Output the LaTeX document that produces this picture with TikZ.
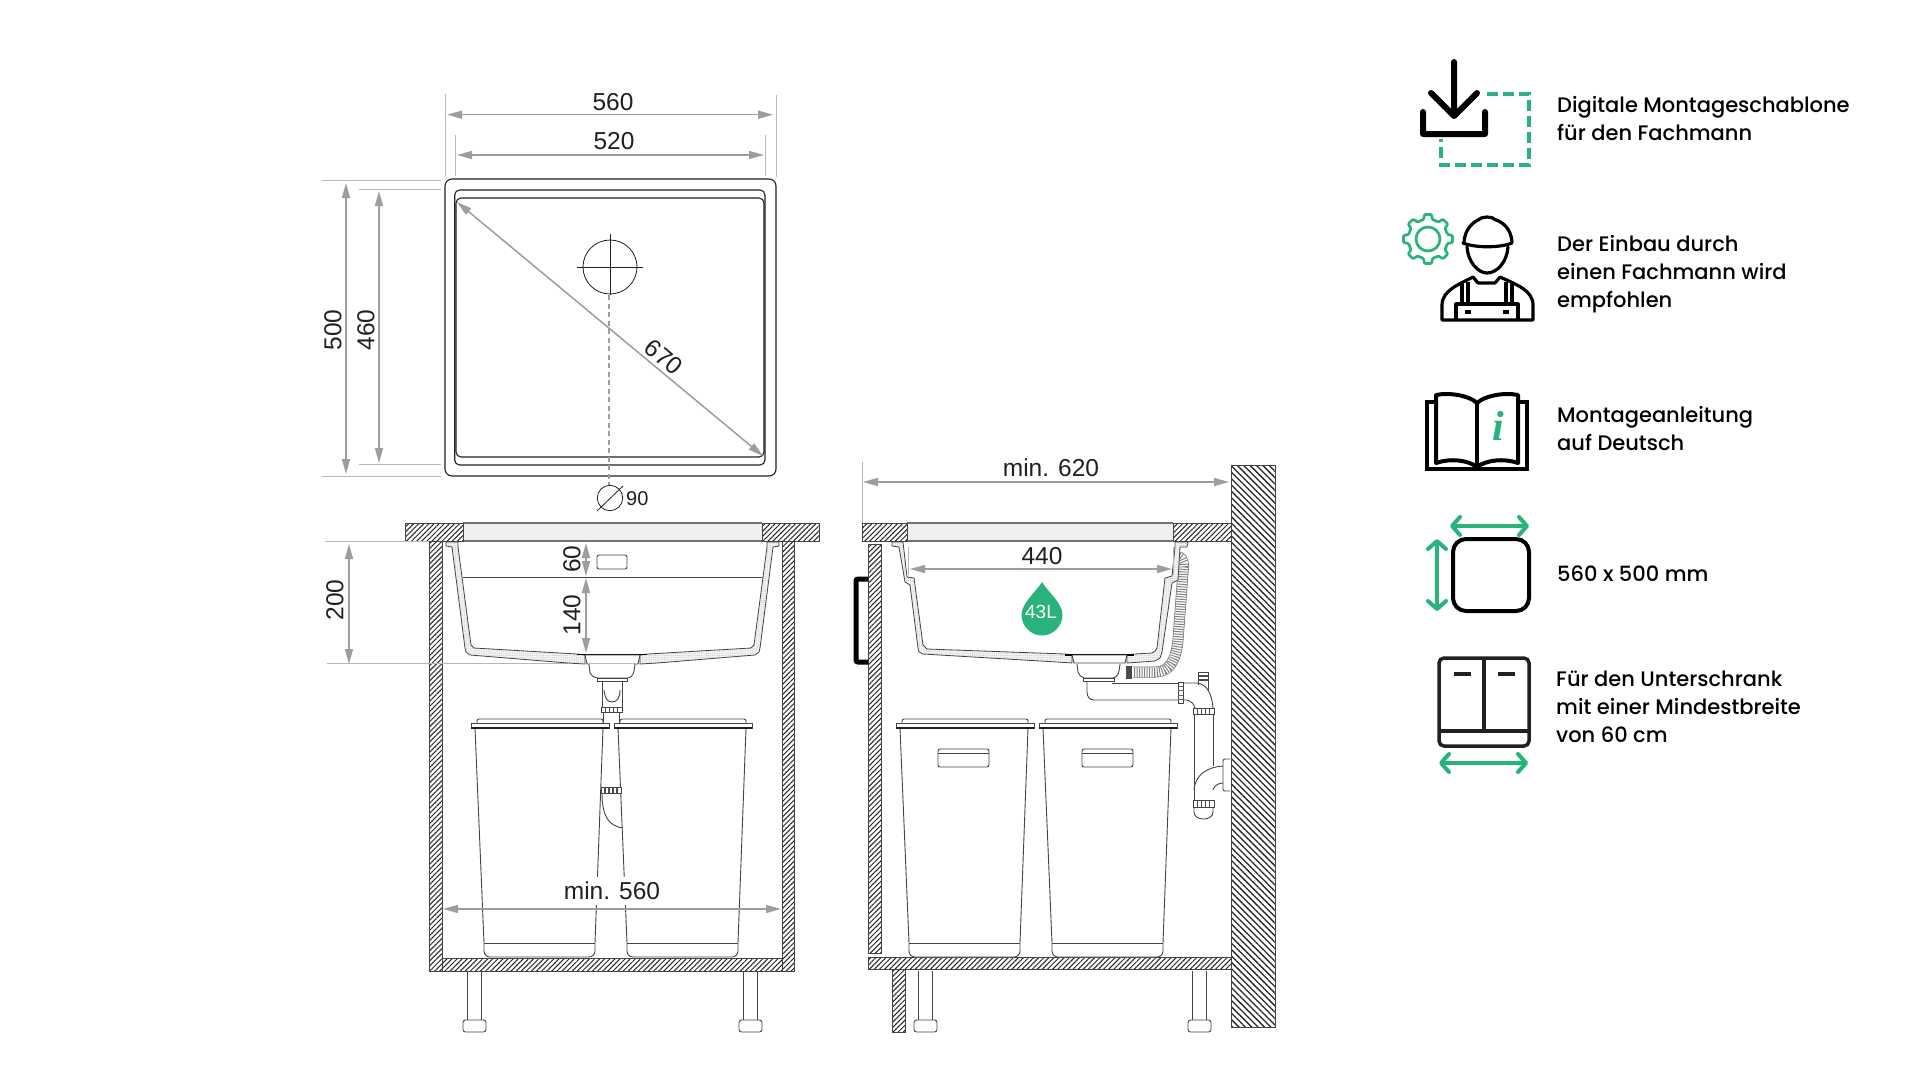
\documentclass[tikz,border=0pt]{standalone}
\usepackage{fontspec}
\setmainfont{Liberation Sans}
\newfontfamily\lab{Poppins Medium}
\usetikzlibrary{arrows.meta,patterns.meta}
\definecolor{dimc}{HTML}{999EA3}
\definecolor{extc}{HTML}{B4B8BB}
\definecolor{ink}{HTML}{231F20}
\definecolor{linec}{HTML}{444444}
\definecolor{grn}{HTML}{2AB27B}
\tikzset{
  dimline/.style={draw=dimc,line width=1.5pt,{Triangle[length=15pt,width=8pt]}-{Triangle[length=15pt,width=8pt]}},
  extline/.style={draw=extc,line width=1pt},
  dimtext/.style={text=ink,font=\fontsize{24.5}{24}\selectfont,inner sep=0pt},
  icontext/.style={anchor=west,align=left,text=black,inner sep=0pt,font=\lab\fontsize{21}{28}\selectfont},
  hatchR/.style={draw=linec,line width=1pt,pattern={Lines[angle=45,distance=3.6pt,line width=1pt]},pattern color=black!85},
  hatchL/.style={draw=linec,line width=1pt,pattern={Lines[angle=-45,distance=4.5pt,line width=1.3pt]},pattern color=black!85},
  thin line/.style={draw=linec,line width=0.9pt},
  stone/.style={draw=linec,line width=0.8pt,line join=round,preaction={fill=black!5},pattern={Dots[distance=2.2pt,radius=0.35pt]},pattern color=black!35},
  iconblack/.style={draw=black,line width=3.2pt,line cap=round,line join=round},
  icongreen/.style={draw=grn,line width=4pt,{Straight Barb[length=8pt,width=18pt,round]}-{Straight Barb[length=8pt,width=18pt,round]}},
  binpic/.pic={
    \draw[thin line,fill=white] (6,0) [rounded corners=2pt] -- (6,-4) -- (132,-4) -- (132,0);
    \draw[thin line,fill=white,rounded corners=0pt] (4,5) -- (13,220) [rounded corners=6pt] -- (13,234) -- (124,234) [rounded corners=0pt] -- (124,220) -- (132,5) -- cycle;
    \draw[draw=linec,line width=1pt,fill=white] (0,0) rectangle (138,5);
    \draw[draw=ink,line width=1.2pt] (0,5) -- (138,5);
    \draw[thin line] (13,220) -- (124,220);
  },
  binhandle/.pic={
    \draw[thin line,rounded corners=2pt] (0,0) rectangle (51,18);
    \draw[thin line] (0,4) -- (51,4);
  },
  legpic/.pic={
    \draw[thin line] (4,-49) -- (4,0) (18,-49) -- (18,0);
    \draw[thin line,rounded corners=2.5pt,fill=white] (0,0) rectangle (23,12);
  }
}
\newcommand{\collar}[4]{\draw[thin line,fill=white] (#1,#2) rectangle (#3,#4);
  \foreach \k in {0.2,0.4,0.6,0.8}{\draw[draw=black!70,line width=1.2pt] ({#1+\k*(#3-#1)},#2) -- ({#1+\k*(#3-#1)},#4);}}
\begin{document}
\begin{tikzpicture}[x=1pt,y=-1pt]
\useasboundingbox (0,0) rectangle (1920,1080);
\fill[white] (0,0) rectangle (1920,1080);

%% ---------- top view
\draw[draw=ink,line width=1.1pt,rounded corners=7pt] (445,179) rectangle (776,476);
\draw[draw=ink,line width=1.1pt,rounded corners=5pt] (454.7,190) rectangle (765,465);
\draw[draw=ink,line width=1.1pt,rounded corners=5pt] (456,198) rectangle (764,457);
\draw[draw=ink,line width=0.8pt] (610,267) circle (27);
\draw[draw=ink,line width=0.8pt] (577,267) -- (643,267) (610,234) -- (610,295);
\draw[draw=dimc,line width=1.2pt,dash pattern=on 5pt off 3.5pt] (609,295) -- (609,485);
\draw[draw=ink,line width=0.8pt] (610,498) circle (12.7);
\draw[draw=ink,line width=0.8pt] (597,511) -- (623,486);
\node[dimtext,font=\fontsize{20}{20}\selectfont,anchor=west] (t90) at (626,499) {90};
\draw[extline] (445,94) -- (445,176) (776,95) -- (776,177) (455,135) -- (455,176) (765,135) -- (765,176);
\draw[extline] (322,180) -- (441,180) (322,476) -- (441,476) (359,189) -- (441,189) (359,464) -- (441,464);
\draw[dimline] (447,114.7) -- (773,114.7);
\draw[dimline] (457,155) -- (764,155);
\draw[dimline] (346,183) -- (346,474);
\draw[dimline] (379,191) -- (379,463);
\draw[dimline] (457,202) -- (763,456);
\node[dimtext] (t560) at (613,102) {560};
\node[dimtext] (t520) at (614,141) {520};
\node[dimtext,rotate=90] (t500) at (333,330) {500};
\node[dimtext,rotate=90] (t460) at (366,330) {460};
\node[dimtext,rotate=-40] (t670) at (664,357) {670};

%% ---------- front view
\fill[black!6] (463,523) rectangle (762,541);
\draw[draw=black!55,line width=1.1pt] (463,523) -- (762,523) (463,541) -- (762,541);
\path[hatchR] (405,523) rectangle (463,541);
\path[hatchR] (762,523) rectangle (819,541);
\path[hatchR] (429,541) rectangle (442,971);
\path[hatchR] (782,541) rectangle (794,971);
\path[hatchR] (442,958) rectangle (782,971);
\draw[extline] (325,541) -- (429,541) (327,663) -- (568,663);
\draw[dimline] (349,544) -- (349,664);
\node[dimtext,rotate=90] (t200) at (335,600) {200};
\pic at (463,1020) {legpic};
\pic at (739,1020) {legpic};
% sink
\draw[thin line] (463,577) -- (762,577);
\draw[thin line,rounded corners=2pt] (597,555) rectangle (627,569);
\newcommand{\frontwall}{\draw[stone] (446,542) -- (446,546) -- (452,547) -- (465,648) -- (466,652) -- (470,655) -- (568,663) -- (585,664) -- (585,655) -- (577,654) -- (474,648) -- (471,645) -- (458,547) -- (458,542) -- cycle;}
\frontwall
\begin{scope}[shift={(1225,0)},xscale=-1]\frontwall\end{scope}
\draw[draw=black,line width=1.8pt] (577,654.5) -- (647,654.5);
\draw[thin line,fill=white] (585,655) -- (640,655) -- (638,664) -- (587,664) -- cycle;
\draw[thin line,fill=white] (589,664) -- (590,673) .. controls (591,676) and (594,677) .. (597,678) -- (628,678) .. controls (632,677) and (634,675) .. (635,664);
\draw[thin line,fill=white] (597,678) rectangle (627,681);
% pipe
\draw[thin line] (602,681) -- (602,707) (622,681) -- (622,707) (603,712) -- (603,728) (619,712) -- (619,728);
\draw[thin line] (604,690) .. controls (605,698) and (607,702) .. (612,702) .. controls (617,702) and (620,698) .. (620,690);
\collar{601}{707}{622}{712}
% bins
\pic at (471,723) {binpic};
\pic at (614,723) {binpic};
\collar{601}{787}{621}{793}
\draw[thin line] (602,793) .. controls (602,815) and (608,826) .. (623,828);
\node[dimtext,fill=white,inner xsep=1pt,inner ysep=5pt] (tmin560) at (612,891) {min. 560};
\draw[dimline] (443,909) -- (781,909);
\draw[dimline] (586,543) -- (586,576);
\draw[dimline] (586,578) -- (586,653);
\node[dimtext,rotate=90] (t60) at (572,559) {60};
\node[dimtext,rotate=90] (t140) at (572,615) {140};

%% ---------- side view
\path[hatchL] (1231,465) rectangle (1275,1027);
\fill[black!6] (907,523) rectangle (1173,541);
\draw[draw=black!55,line width=1.1pt] (907,523) -- (1173,523) (907,541) -- (1173,541);
\path[hatchR] (862,523) rectangle (907,541);
\path[hatchR] (1173,523) rectangle (1231,541);
\path[hatchR] (868,544) rectangle (881,953);
\path[hatchR] (868,957) rectangle (1231,969);
\path[hatchR] (892,969) rectangle (905,1032);
\pic at (914,1020) {legpic};
\pic at (1188,1020) {legpic};
\draw[draw=black,line width=5pt,rounded corners=2pt] (868,579) -- (856,579) -- (856,662) -- (868,662);
% overflow hose
\path[draw=black!55,line width=11pt,line join=round] (1178,556) .. controls (1184,558) and (1184,566) .. (1183,572) -- (1178,640) .. controls (1176,660) and (1170,672) .. (1155,672) -- (1133,672);
\path[draw=white,line width=9.5pt,line join=round] (1178,556) .. controls (1184,558) and (1184,566) .. (1183,572) -- (1178,640) .. controls (1176,660) and (1170,672) .. (1155,672) -- (1133,672);
\path[draw=black!50,line width=9.5pt,dash pattern=on 1pt off 1.5pt] (1178,556) .. controls (1184,558) and (1184,566) .. (1183,572) -- (1178,640) .. controls (1176,660) and (1170,672) .. (1155,672) -- (1133,672);
\collar{1126}{666}{1131}{678}
% sink walls
\draw[stone] (892,542) -- (892,546) -- (899,547) -- (905,582) -- (910,585) -- (918,648) -- (919,652) -- (923,654) -- (1057,662) -- (1072,663) -- (1072,655) -- (1065,654) -- (927,649) -- (923,645) -- (914,578) -- (907,577) -- (903,542) -- cycle;
\draw[stone] (1188,542) -- (1187,547) -- (1180,547) -- (1178,580) -- (1172,583) -- (1162,652) -- (1160,658) -- (1155,661) -- (1127,663) -- (1127,655) -- (1134,654) -- (1152,653) -- (1155,651) -- (1157,648) -- (1165,578) -- (1172,576) -- (1175,547) -- (1175,542) -- cycle;
\draw[draw=black,line width=1.8pt] (1065,655) -- (1134,655);
\draw[thin line,fill=white] (1072,655) -- (1127,655) -- (1125,663) -- (1074,663) -- cycle;
\draw[thin line,fill=white] (1077,664) -- (1078,672) .. controls (1079,675) and (1081,677) .. (1084,678) -- (1113,678) .. controls (1117,677) and (1119,675) .. (1120,664);
\draw[thin line,fill=white] (1083,678) rectangle (1114,681);
% trap
\draw[thin line] (1087,681) -- (1087,692) .. controls (1087,697) and (1090,700) .. (1094,700) -- (1178,700);
\draw[thin line] (1112,683) -- (1178,683);
\draw[thin line] (1198,685) -- (1198,672) -- (1208,672) -- (1208,690);
\draw[draw=black!70,line width=1.2pt] (1198,676) -- (1208,676) (1198,680) -- (1208,680);
\draw[thin line] (1183,683) -- (1197,683) .. controls (1207,684) and (1212,694) .. (1213,708);
\draw[thin line] (1183,700) -- (1187,700) .. controls (1191,701) and (1194,704) .. (1195,708);
\draw[thin line,fill=white] (1178,682) rectangle (1183,703);
\draw[draw=black!60,line width=1pt] (1178,686) -- (1183,686) (1178,690) -- (1183,690) (1178,695) -- (1183,695) (1178,699) -- (1183,699);
\collar{1193}{708}{1214}{714}
\draw[thin line] (1194,714) -- (1194,800) (1213,714) -- (1213,766);
\draw[thin line] (1194,790) .. controls (1195,775) and (1207,767) .. (1223,766);
\draw[thin line] (1213,790) .. controls (1214,786) and (1218,783) .. (1223,783);
\draw[thin line,rounded corners=2pt] (1230,759) -- (1223,759) -- (1223,791) -- (1230,791);
\collar{1193}{800}{1214}{807}
\draw[thin line] (1194,807) -- (1194,812) .. controls (1194,817) and (1199,819) .. (1203.5,819) .. controls (1208,819) and (1213,817) .. (1213,812) -- (1213,807);
% bins
\pic at (896,723) {binpic};
\pic at (1039,723) {binpic};
\pic at (938,749) {binhandle};
\pic at (1082,749) {binhandle};
% dims
\draw[extline] (862,462) -- (862,523);
\draw[dimline] (863,482) -- (1229,482);
\node[dimtext] (tmin620) at (1051,468) {min. 620};
\draw[extline] (908,547) -- (908,575) (1173,547) -- (1173,575);
\draw[dimline] (910,569) -- (1172,569);
\node[dimtext] (t440) at (1042,556) {440};
\fill[grn] (1042,582) .. controls (1036,592) and (1021.5,603) .. (1021.5,615) .. controls (1021.5,626) and (1031,635.5) .. (1042,635.5) .. controls (1053,635.5) and (1062.5,626) .. (1062.5,615) .. controls (1062.5,603) and (1048,592) .. (1042,582) -- cycle;
\node[text=white,font=\fontsize{19}{19}\selectfont,inner sep=0pt] (t43) at (1041,612) {43L};

%% ---------- icons
% download
\draw[draw=black,line width=6pt,line cap=round,line join=round] (1454,62) -- (1454,116) (1431,93) -- (1454,116) -- (1477,93) (1423,112) -- (1423,134) -- (1485,134) -- (1485,112);
\draw[draw=grn,line width=4.5pt,dash pattern=on 11pt off 5pt] (1487,94) -- (1529,94) -- (1529,165) -- (1441,165) -- (1441,139);
\node[icontext] (l1) at (1557,119) {Digitale Montageschablone\\für den Fachmann};
% worker
\begin{scope}[shift={(1428,239)}]
\draw[draw=grn,line width=2.7pt,line join=round,rounded corners=1pt]
 (-13:20) \foreach \a in {0,45,...,315}{ -- ({\a-13}:20) -- ({\a-8}:24.8) -- ({\a+8}:24.8) -- ({\a+13}:20)} -- cycle;
\draw[draw=grn,line width=2.7pt] (0,0) circle (12);
\end{scope}
\draw[iconblack] (1464,242) .. controls (1465,228) and (1474,222) .. (1478,220) .. controls (1482,216) and (1492,216) .. (1496,220) .. controls (1502,222) and (1511,228) .. (1512,242);
\draw[iconblack] (1463,243) .. controls (1475,248) and (1500,248) .. (1512,243);
\draw[iconblack] (1467,247) .. controls (1468,262) and (1478,273) .. (1487,273) .. controls (1497,273) and (1507,262) .. (1508,247);
\draw[iconblack,line cap=butt] (1442,320) -- (1442,305) .. controls (1442,290) and (1460,284) .. (1473,277) -- (1478,283) -- (1495,283) -- (1500,277) .. controls (1515,284) and (1533,290) .. (1533,305) -- (1533,320) -- cycle;
\draw[iconblack,line cap=butt] (1456,320) -- (1456,304) -- (1518,304) -- (1518,320);
\draw[iconblack,line cap=butt] (1462,282) -- (1462,304) (1468,282) -- (1468,304) (1506,282) -- (1506,304) (1512,282) -- (1512,304);
\draw[iconblack,line cap=butt] (1465,312) -- (1471,312) (1503,312) -- (1509,312);
\node[icontext] (l2) at (1557,274) {Der Einbau durch\\einen Fachmann wird\\empfohlen};
% book
\draw[iconblack,line width=4pt,line cap=butt,line join=miter] (1436,402) -- (1427,402) -- (1427,469) -- (1527,469) -- (1527,402) -- (1518,402);
\draw[iconblack,line width=4pt] (1436,463) -- (1436,395) .. controls (1450,392) and (1470,396) .. (1477,403) .. controls (1484,396) and (1504,392) .. (1518,395) -- (1518,463) .. controls (1504,458) and (1486,460) .. (1477,467) .. controls (1468,460) and (1450,458) .. (1436,463) -- cycle;
\draw[iconblack,line width=4pt] (1477,403) -- (1477,467);
\node[text=grn,font=\fontspec{Liberation Serif}\bfseries\itshape\fontsize{42}{42}\selectfont,inner sep=0pt] (ti) at (1498,426) {i};
\node[icontext] (l3) at (1557,428) {Montageanleitung\\auf Deutsch};
% size
\draw[draw=black,line width=4pt,rounded corners=13pt] (1453,539) rectangle (1529,611);
\draw[icongreen] (1450,526) -- (1529,526);
\draw[icongreen] (1437,539) -- (1437,611);
\node[icontext] (l4) at (1557,574) {560 x 500 mm};
% cabinet
\draw[draw=ink,line width=3.5pt,rounded corners=5pt] (1439,658) rectangle (1529,746);
\draw[draw=ink,line width=3.5pt] (1484,658) -- (1484,731) (1439,731) -- (1529,731);
\draw[draw=ink,line width=3.5pt] (1454,674) -- (1471,674) (1498,674) -- (1515,674);
\draw[icongreen] (1439,763) -- (1528,763);
\node[icontext] (l5) at (1556,707) {Für den Unterschrank\\mit einer Mindestbreite\\von 60 cm};
\end{tikzpicture}
\end{document}
